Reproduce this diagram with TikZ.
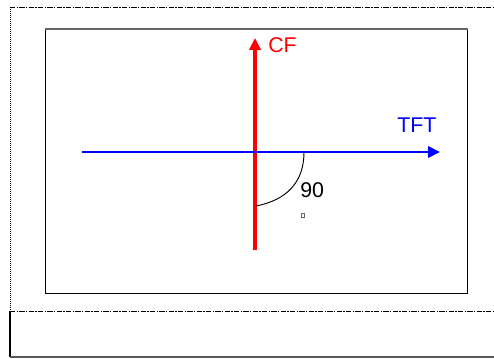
\documentclass[tikz,border=0pt]{standalone}
\usepackage{fontspec}
\setmainfont{Liberation Sans}
\usetikzlibrary{arrows.meta}

\begin{document}
\begin{tikzpicture}[x=0.75pt,y=-0.75pt,line cap=butt,line join=miter,
  axislabel/.style={inner sep=0pt,anchor=base west,font=\fontsize{16pt}{19pt}\selectfont},
  dashdot/.style={line width=0.5pt,dash pattern=on 4pt off 1pt on 1pt off 1pt}]
\useasboundingbox (0,0) rectangle (494,359);

% outer frame
\draw[dashdot] (10,7) -- (494,7);
\draw[line width=0.5pt,dash pattern=on 1pt off 0.5pt] (10,7) -- (10,311);
\draw[dashdot] (10,311) -- (494,311);
\draw[line width=0.8pt] (10,311) -- (10,357);
\draw[line width=1.2pt,black!65] (10,357) -- (494,357);

% inner frame
\draw[line width=0.7pt] (45,29) rectangle (467,293);
\draw[line width=1.5pt,black!60] (44.5,29) -- (467.5,29);

% axes
\coordinate (CFs) at (255,250);
\coordinate (CFe) at (255,38);
\coordinate (TFTs) at (82,152);
\coordinate (TFTe) at (440,152);

\draw[red,line width=2.5pt,-{Triangle[length=9pt,width=8.5pt]}] (CFs) -- (CFe);
\draw[blue,line width=2pt,-{Triangle[length=9pt,width=8.5pt]}] (TFTs) -- (TFTe);

\node[axislabel,red] (CF) at (268,53) {CF};
\node[axislabel,blue] (TFT) at (397,133) {TFT};

% angle mark
\coordinate (A1) at (304,152);
\coordinate (A2) at (256,206);
\draw[line width=0.7pt] (A1) .. controls (304,182) and (287,200) .. (A2);
\node[axislabel] (ang) at (300,198) {90};
\draw[line width=0.4pt,black!60] (301.5,213) rectangle (304,217);

\end{tikzpicture}
\end{document}
